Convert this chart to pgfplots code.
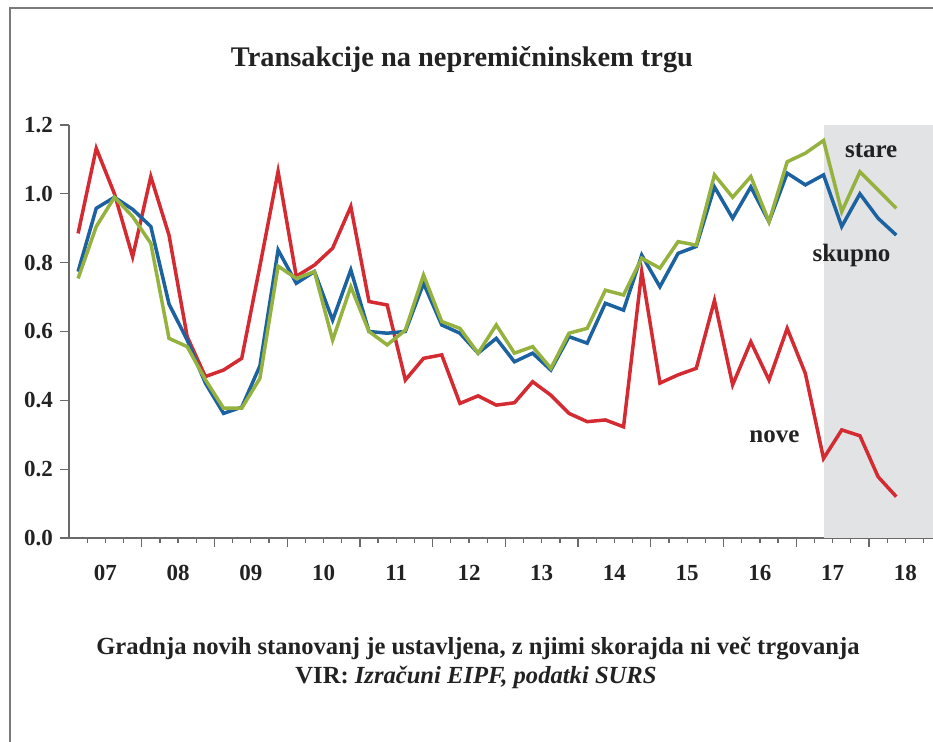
\documentclass[border=0pt]{standalone}
\usepackage{fontspec}
\setmainfont{Liberation Serif}
\usepackage{pgfplots}
\pgfplotsset{compat=1.18}
\usepackage{pgfplotstable}
\definecolor{cred}{HTML}{D42A32}
\definecolor{cblue}{HTML}{1C62A0}
\definecolor{cgreen}{HTML}{95B23E}
\definecolor{cshade}{HTML}{E2E3E5}
\definecolor{cframe}{HTML}{7A7A7A}
\definecolor{caxis}{HTML}{6A6A6A}
\definecolor{ctext}{HTML}{222222}

\pgfplotstableread{
x nove skupno stare
2007.125 0.885 0.774 0.754
2007.375 1.132 0.958 0.905
2007.625 1.000 0.990 0.990
2007.875 0.817 0.955 0.934
2008.125 1.050 0.905 0.856
2008.375 0.880 0.680 0.580
2008.625 0.585 0.575 0.556
2008.875 0.469 0.450 0.460
2009.125 0.488 0.362 0.377
2009.375 0.522 0.380 0.377
2009.625 0.790 0.500 0.464
2009.875 1.065 0.837 0.790
2010.125 0.760 0.740 0.754
2010.375 0.793 0.774 0.774
2010.625 0.842 0.633 0.575
2010.875 0.963 0.779 0.730
2011.125 0.687 0.600 0.600
2011.375 0.677 0.595 0.561
2011.625 0.459 0.600 0.604
2011.875 0.522 0.740 0.764
2012.125 0.532 0.619 0.629
2012.375 0.391 0.595 0.609
2012.625 0.413 0.537 0.537
2012.875 0.386 0.580 0.619
2013.125 0.393 0.512 0.537
2013.375 0.454 0.537 0.556
2013.625 0.415 0.488 0.493
2013.875 0.362 0.585 0.595
2014.125 0.338 0.566 0.609
2014.375 0.343 0.682 0.720
2014.625 0.323 0.662 0.706
2014.875 0.774 0.822 0.813
2015.125 0.450 0.730 0.784
2015.375 0.474 0.827 0.861
2015.625 0.493 0.847 0.851
2015.875 0.690 1.020 1.055
2016.125 0.445 0.929 0.990
2016.375 0.570 1.020 1.050
2016.625 0.459 0.919 0.919
2016.875 0.609 1.060 1.093
2017.125 0.478 1.026 1.118
2017.375 0.231 1.055 1.155
2017.625 0.314 0.905 0.948
2017.875 0.297 1.000 1.064
2018.125 0.178 0.929 1.011
2018.375 0.120 0.880 0.958
}\datatable

\begin{document}
\begin{tikzpicture}
\useasboundingbox (-34.5pt,-102pt) rectangle (432pt,269pt);
\draw[cframe, line width=0.9pt] (-29.5pt,-102pt) -- (-29.5pt,265pt) -- (432pt,265pt);
\begin{axis}[
  at={(0pt,0pt)}, anchor=south west,
  scale only axis, width=432pt, height=206.5pt,
  xmin=2007, xmax=2018.88, ymin=0, ymax=1.2,
  axis x line=bottom, axis y line=left,
  axis line style={-, caxis, line width=0.8pt},
  tick align=outside,
  xtick={2008,2009,2010,2011,2012,2013,2014,2015,2016,2017,2018},
  xticklabels={},
  minor xtick={2007.25,2007.5,2007.75,2008.25,2008.5,2008.75,2009.25,2009.5,2009.75,2010.25,2010.5,2010.75,2011.25,2011.5,2011.75,2012.25,2012.5,2012.75,2013.25,2013.5,2013.75,2014.25,2014.5,2014.75,2015.25,2015.5,2015.75,2016.25,2016.5,2016.75,2017.25,2017.5,2017.75,2018.25,2018.5,2018.75},
  extra x ticks={2007.5,2008.5,2009.5,2010.5,2011.5,2012.5,2013.5,2014.5,2015.5,2016.5,2017.5,2018.5},
  extra x tick labels={07,08,09,10,11,12,13,14,15,16,17,18},
  extra x tick style={major tick length=0pt},
  major tick length=4.5pt, minor tick length=2.5pt,
  tick style={caxis, line width=0.6pt},
  ytick={0,0.2,0.4,0.6,0.8,1.0,1.2},
  yticklabel style={/pgf/number format/fixed, /pgf/number format/fixed zerofill, /pgf/number format/precision=1},
  /pgf/number format/assume math mode=true,
  ticklabel style={font=\fontsize{11.5}{12}\selectfont\bfseries, text=ctext},
  xticklabel style={yshift=-10pt},
  yticklabel style={xshift=0pt},
]
\addplot[draw=none, fill=cshade] coordinates {(2017.375,1.2) (2018.88,1.2)} \closedcycle;
\addplot[cred, line width=1.75pt] table[x=x, y=nove] {\datatable};
\addplot[cblue, line width=1.75pt] table[x=x, y=skupno] {\datatable};
\addplot[cgreen, line width=1.75pt] table[x=x, y=stare] {\datatable};
\node[font=\fontsize{12.5}{13}\selectfont\bfseries, text=ctext] at (axis cs:2018.03,1.127) {stare};
\node[font=\fontsize{12.5}{13}\selectfont\bfseries, text=ctext] at (axis cs:2017.76,0.822) {skupno};
\node[font=\fontsize{12.5}{13}\selectfont\bfseries, text=ctext] at (axis cs:2016.70,0.293) {nove};
\end{axis}
\node[font=\fontsize{14.2}{15}\selectfont\bfseries, text=ctext] at (196.5pt,239pt) {Transakcije na nepremičninskem trgu};
\node[font=\fontsize{12.3}{13}\selectfont\bfseries, text=ctext] at (204.5pt,-55.5pt) {Gradnja novih stanovanj je ustavljena, z njimi skorajda ni več trgovanja};
\node[font=\fontsize{12.3}{13}\selectfont\bfseries, text=ctext] at (203.5pt,-69.5pt) {VIR: \textit{Izračuni EIPF, podatki SURS}};
\end{tikzpicture}
\end{document}
